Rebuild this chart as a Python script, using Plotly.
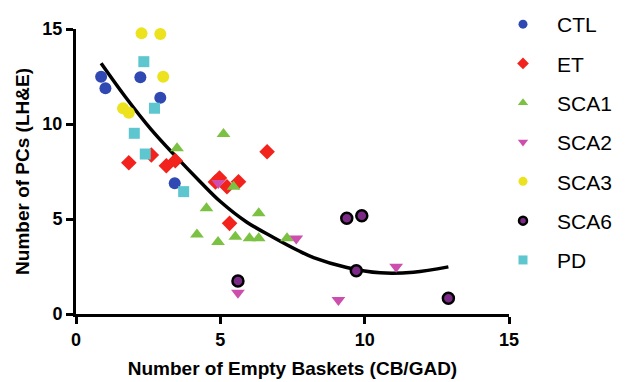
import plotly.graph_objects as go

# ---- data ----
ctl_x = [0.87, 1.02, 2.23, 2.92, 3.42]
ctl_y = [12.49, 11.88, 12.46, 11.38, 6.88]

et_x = [1.83, 2.61, 3.13, 3.44, 4.83, 4.97, 5.23, 5.63, 6.62, 5.32]
et_y = [7.96, 8.37, 7.80, 8.07, 6.95, 7.16, 6.70, 6.96, 8.54, 4.77]

sca1_x = [3.50, 5.11, 5.46, 4.52, 4.19, 4.92, 5.52, 6.01, 6.33, 6.33, 7.31]
sca1_y = [8.72, 9.47, 6.70, 5.56, 4.18, 3.79, 4.07, 3.99, 3.99, 5.30, 3.99]

sca2_x = [4.93, 5.61, 7.63, 9.09, 11.09]
sca2_y = [6.90, 1.12, 3.98, 0.74, 2.49]

sca3_x = [2.27, 2.92, 3.02, 1.63, 1.83]
sca3_y = [14.77, 14.74, 12.49, 10.83, 10.59]

sca6_x = [5.61, 9.38, 9.90, 9.71, 12.90]
sca6_y = [1.74, 5.04, 5.17, 2.28, 0.83]

pd_x = [2.35, 2.72, 2.02, 2.40, 3.73]
pd_y = [13.28, 10.83, 9.51, 8.42, 6.44]

# fitted trend line
fit_x = [0.87, 1.70, 2.60, 3.44, 4.31, 5.00, 5.92, 6.84, 7.71, 8.23, 9.38, 10.54, 11.69, 12.90]
fit_y = [13.20, 11.45, 9.72, 8.32, 6.95, 5.92, 4.83, 4.03, 3.33, 2.97, 2.45, 2.17, 2.20, 2.48]

x_ticks = [0, 5, 10, 15]
y_ticks = [0, 5, 10, 15]

series = [
    ("CTL", ctl_x, ctl_y, "circle", "#2f48b2", 12, None),
    ("ET", et_x, et_y, "diamond", "#f2231d", 12, None),
    ("SCA1", sca1_x, sca1_y, "triangle-up", "#7cc242", 12, None),
    ("SCA2", sca2_x, sca2_y, "triangle-down", "#cc4fae", 12, None),
    ("SCA3", sca3_x, sca3_y, "circle", "#ece21e", 12, None),
    ("SCA6", sca6_x, sca6_y, "circle", "#7b2a86", 11, "black"),
    ("PD", pd_x, pd_y, "square", "#5ec6cf", 11, None),
]

FONT = "Liberation Sans, Arial, sans-serif"
W, H = 622, 374  # page body has an 8px margin

fig = go.Figure()

fig.add_trace(go.Scatter(x=fit_x, y=fit_y, mode="lines",
                         line=dict(color="black", width=3.5, shape="spline", smoothing=1.0),
                         showlegend=False, hoverinfo="skip"))

for name, xs, ys, sym, col, sz, edge in series:
    mk = dict(symbol=sym, color=col, size=sz)
    mk["line"] = dict(color=edge, width=2.5) if edge else dict(width=0)
    fig.add_trace(go.Scatter(x=xs, y=ys, mode="markers", marker=mk,
                             name=name, showlegend=False, cliponaxis=False))
    lmk = dict(symbol=sym, color=col, size=9 if not edge else 8)
    lmk["line"] = dict(color=edge, width=2.5) if edge else dict(width=0)
    fig.add_trace(go.Scatter(x=[None], y=[None], mode="markers", marker=lmk,
                             name=name, legendgroup=name, showlegend=True))

axis_common = dict(
    showline=True, linecolor="black", linewidth=3,
    ticks="outside", ticklen=7, tickwidth=3, tickcolor="black",
    showgrid=False, zeroline=False,
    tickfont=dict(family=FONT, size=18, color="black", weight="bold"),
)

fig.update_xaxes(range=[0, 15], tickvals=x_ticks, title_text="Number of Empty Baskets (CB/GAD)",
                 title_font=dict(family=FONT, size=19, color="black", weight="bold"),
                 title_standoff=14, **axis_common)
fig.update_yaxes(range=[0, 15], tickvals=y_ticks, title_text="Number of PCs (LH&E)",
                 title_font=dict(family=FONT, size=19, color="black", weight="bold"),
                 title_standoff=8, **axis_common)

fig.update_layout(
    width=W, height=H,
    margin=dict(l=68, r=121, t=21, b=68, autoexpand=False),
    paper_bgcolor="white", plot_bgcolor="white",
    legend=dict(xref="container", yref="paper", x=(489 - 8) / W, y=1 + 25 / 285,
                xanchor="left", yanchor="top", maxheight=380,
                font=dict(family=FONT, size=21, color="black"),
                tracegroupgap=9, itemwidth=58, bgcolor="rgba(0,0,0,0)"),
)

fig.write_html("out.html")
